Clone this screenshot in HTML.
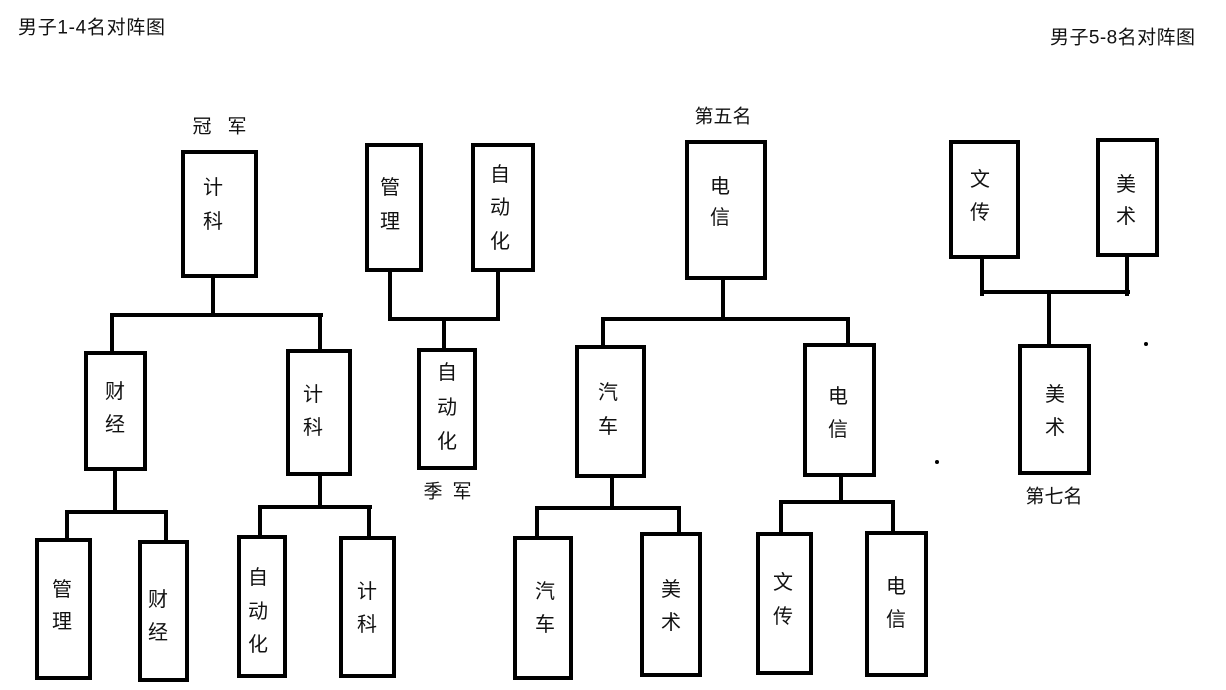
<!DOCTYPE html>
<html>
<head>
<meta charset="utf-8">
<style>
html,body{margin:0;padding:0;background:#fff;}
svg{display:block;}
text{font-family:"Liberation Sans","Noto Sans CJK SC",sans-serif;fill:#111;}
.b{font-size:20px;}
.l{font-size:19px;}
</style>
</head>
<body>
<svg width="1226" height="690" viewBox="0 0 1226 690" xmlns="http://www.w3.org/2000/svg">
<rect width="1226" height="690" fill="#fff"/>
<!-- titles -->
<text x="18" y="28" font-size="19" dominant-baseline="central" textLength="147" lengthAdjust="spacing">男子1-4名对阵图</text>
<text x="1050" y="38" font-size="19" dominant-baseline="central" textLength="145" lengthAdjust="spacing">男子5-8名对阵图</text>

<g fill="none" stroke="#000" stroke-width="4">
<!-- boxes -->
<rect x="183" y="152" width="73" height="124"/>
<rect x="86" y="353" width="59" height="116"/>
<rect x="288" y="351" width="62" height="123"/>
<rect x="37" y="540" width="53" height="138"/>
<rect x="140" y="542" width="47" height="138"/>
<rect x="239" y="537" width="46" height="139"/>
<rect x="341" y="538" width="53" height="138"/>
<rect x="367" y="145" width="54" height="125"/>
<rect x="473" y="145" width="60" height="125"/>
<rect x="419" y="350" width="56" height="118"/>
<rect x="687" y="142" width="78" height="136"/>
<rect x="577" y="347" width="67" height="129"/>
<rect x="805" y="345" width="69" height="130"/>
<rect x="515" y="538" width="56" height="140"/>
<rect x="642" y="534" width="58" height="141"/>
<rect x="758" y="534" width="53" height="139"/>
<rect x="867" y="533" width="59" height="142"/>
<rect x="951" y="142" width="67" height="115"/>
<rect x="1098" y="140" width="59" height="115"/>
<rect x="1020" y="346" width="69" height="127"/>
</g>

<g stroke="#000" stroke-width="4" fill="none" stroke-linecap="square">
<!-- left tree -->
<line x1="213" y1="278" x2="213" y2="315"/>
<line x1="112" y1="315" x2="321" y2="315"/>
<line x1="112" y1="315" x2="112" y2="351"/>
<line x1="320" y1="315" x2="320" y2="349"/>
<line x1="115" y1="471" x2="115" y2="512"/>
<line x1="67" y1="512" x2="166" y2="512"/>
<line x1="67" y1="512" x2="67" y2="538"/>
<line x1="166" y1="512" x2="166" y2="540"/>
<line x1="320" y1="476" x2="320" y2="507"/>
<line x1="260" y1="507" x2="370" y2="507"/>
<line x1="260" y1="507" x2="260" y2="535"/>
<line x1="369" y1="507" x2="369" y2="536"/>
<!-- bronze -->
<line x1="390" y1="272" x2="390" y2="319"/>
<line x1="498" y1="272" x2="498" y2="319"/>
<line x1="390" y1="319" x2="498" y2="319"/>
<line x1="444" y1="319" x2="444" y2="348"/>
<!-- 5th tree -->
<line x1="723" y1="280" x2="723" y2="319"/>
<line x1="603" y1="319" x2="848" y2="319"/>
<line x1="603" y1="319" x2="603" y2="345"/>
<line x1="848" y1="319" x2="848" y2="343"/>
<line x1="612" y1="478" x2="612" y2="508"/>
<line x1="537" y1="508" x2="679" y2="508"/>
<line x1="537" y1="508" x2="537" y2="536"/>
<line x1="679" y1="508" x2="679" y2="532"/>
<line x1="841" y1="477" x2="841" y2="502"/>
<line x1="781" y1="502" x2="893" y2="502"/>
<line x1="781" y1="502" x2="781" y2="532"/>
<line x1="893" y1="502" x2="893" y2="531"/>
<!-- 7th -->
<line x1="982" y1="259" x2="982" y2="294"/>
<line x1="1127" y1="257" x2="1127" y2="294"/>
<line x1="982" y1="292" x2="1128" y2="292"/>
<line x1="1049" y1="292" x2="1049" y2="344"/>
</g>

<circle cx="1146" cy="344" r="2" fill="#000"/>
<circle cx="937" cy="462" r="2" fill="#000"/>

<g class="b" text-anchor="middle" dominant-baseline="central">
<text x="213" y="188">计</text><text x="213" y="222">科</text>
<text x="115" y="392">财</text><text x="115" y="425">经</text>
<text x="313" y="395">计</text><text x="313" y="428">科</text>
<text x="62" y="590">管</text><text x="62" y="622">理</text>
<text x="158" y="600">财</text><text x="158" y="633">经</text>
<text x="258" y="578">自</text><text x="258" y="612">动</text><text x="258" y="645">化</text>
<text x="367" y="592">计</text><text x="367" y="625">科</text>
<text x="390" y="188">管</text><text x="390" y="222">理</text>
<text x="500" y="175">自</text><text x="500" y="208">动</text><text x="500" y="242">化</text>
<text x="447" y="373">自</text><text x="447" y="408">动</text><text x="447" y="442">化</text>
<text x="720" y="187">电</text><text x="720" y="218">信</text>
<text x="608" y="393">汽</text><text x="608" y="427">车</text>
<text x="838" y="397">电</text><text x="838" y="430">信</text>
<text x="545" y="592">汽</text><text x="545" y="625">车</text>
<text x="671" y="590">美</text><text x="671" y="623">术</text>
<text x="783" y="583">文</text><text x="783" y="617">传</text>
<text x="896" y="587">电</text><text x="896" y="620">信</text>
<text x="980" y="180">文</text><text x="980" y="213">传</text>
<text x="1126" y="185">美</text><text x="1126" y="217">术</text>
<text x="1055" y="395">美</text><text x="1055" y="428">术</text>
</g>

<g class="l" text-anchor="middle" dominant-baseline="central">
<text x="202" y="127">冠</text><text x="237" y="127">军</text>
<text x="433" y="492">季</text><text x="462" y="492">军</text>
<text x="723" y="117">第五名</text>
<text x="1054" y="497">第七名</text>
</g>
</svg>
</body>
</html>
